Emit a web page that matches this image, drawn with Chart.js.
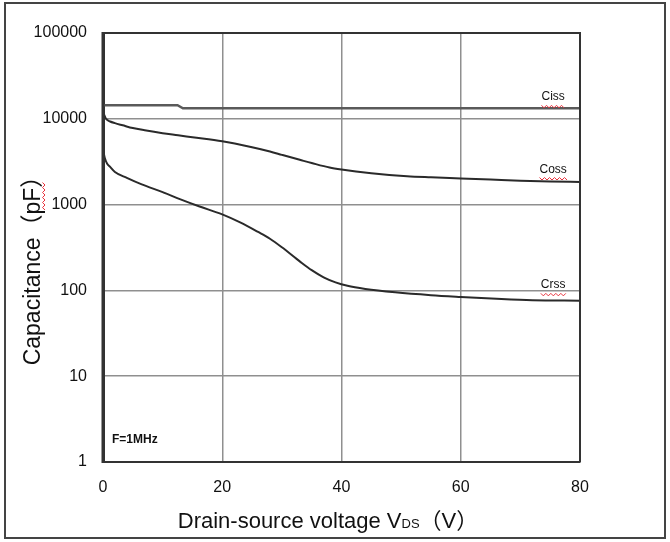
<!DOCTYPE html>
<html>
<head>
<meta charset="utf-8">
<script src="https://cdn.jsdelivr.net/npm/chart.js@4.4.0/dist/chart.umd.min.js"></script>
<style>
  html, body { margin: 0; padding: 0; background: #fff; }
  canvas { display: block; }
</style>
</head>
<body>
<canvas id="c" width="670" height="542"></canvas>
<script>
// Drain-source voltage VDS (V) and capacitance (pF) for each curve
const vCiss = [0, 12.5, 13.4, 80];
const ciss  = [14400, 14400, 13250, 13250];

const vCoss = [0, 0.5, 1.2, 2, 3.3, 5, 7, 10, 12.6, 15, 20, 25, 28, 30, 33, 35, 38, 40, 45, 51, 55, 60, 65, 70, 75, 80];
const coss  = [12000, 10000, 9300, 8900, 8400, 7800, 7350, 6800, 6430, 6100, 5470, 4650, 4150, 3800, 3330, 3050, 2700, 2560, 2320, 2140, 2080, 2020, 1960, 1900, 1860, 1840];

const vCrss = [0, 0.3, 0.7, 1.2, 2, 4, 6.5, 10, 13, 16.2, 20, 23, 26, 28, 30, 33, 35, 37, 39, 41, 44, 49, 55, 60, 66, 72, 80];
const crss  = [4400, 3500, 3000, 2750, 2400, 2050, 1720, 1400, 1150, 950, 770, 620, 480, 400, 318, 218, 172, 142, 124, 113, 104, 95, 88, 84, 80, 77, 76];

// Axis ticks
const xTicks = [0, 20, 40, 60, 80];
const yTicks = [1, 10, 100, 1000, 10000, 100000];

// Curve names and where their labels sit along the VDS axis
const curveNames = ['Ciss', 'Coss', 'Crss'];
const labelV = 75.5;
const labelLift = [8, 9, 12];

const FONT = "'Liberation Sans', 'Noto Sans CJK JP', sans-serif";

const toPts = (xs, ys) => xs.map((x, i) => ({ x: x, y: ys[i] }));

function zigzag(ctx, x0, x1, y) {
  ctx.save();
  ctx.strokeStyle = '#e8323c';
  ctx.lineWidth = 1;
  ctx.beginPath();
  let up = true;
  ctx.moveTo(x0, y);
  for (let x = x0 + 2.5; x <= x1; x += 2.5) {
    ctx.lineTo(x, up ? y + 2.5 : y);
    up = !up;
  }
  ctx.stroke();
  ctx.restore();
}

function zigzagV(ctx, x, y0, y1) {
  ctx.save();
  ctx.strokeStyle = '#e8323c';
  ctx.lineWidth = 1;
  ctx.beginPath();
  let left = true;
  ctx.moveTo(x, y0);
  for (let y = y0 - 2.5; y >= y1; y -= 2.5) {
    ctx.lineTo(left ? x - 2.5 : x, y);
    left = !left;
  }
  ctx.stroke();
  ctx.restore();
}

const decorations = {
  id: 'decorations',
  afterDraw(chart) {
    const ctx = chart.ctx;
    const a = chart.chartArea;
    const xs = chart.scales.x, ys = chart.scales.y;
    ctx.save();

    // outer frame of the figure
    ctx.strokeStyle = '#444';
    ctx.lineWidth = 2;
    ctx.strokeRect(5, 3, 660, 535);

    // plot frame: top and right edges, heavy left axis
    ctx.strokeStyle = '#333';
    ctx.lineWidth = 2;
    ctx.beginPath();
    ctx.moveTo(a.left, a.top);
    ctx.lineTo(a.right, a.top);
    ctx.lineTo(a.right, a.bottom);
    ctx.stroke();
    ctx.lineWidth = 3;
    ctx.beginPath();
    ctx.moveTo(a.left, a.top - 1);
    ctx.lineTo(a.left, a.bottom + 1);
    ctx.stroke();

    // curve names with their spelling marks
    const series = [ciss, coss, crss];
    const vs = [vCiss, vCoss, vCrss];
    ctx.fillStyle = '#111';
    ctx.font = '12px ' + FONT;
    ctx.textAlign = 'center';
    ctx.textBaseline = 'alphabetic';
    curveNames.forEach((name, i) => {
      const xv = vs[i], yv = series[i];
      const k = xv.findIndex(v => v >= labelV);
      const t = (labelV - xv[k - 1]) / (xv[k] - xv[k - 1]);
      const lv = Math.pow(10, Math.log10(yv[k - 1]) + t * (Math.log10(yv[k]) - Math.log10(yv[k - 1])));
      const px = xs.getPixelForValue(labelV);
      const py = ys.getPixelForValue(lv) - labelLift[i];
      ctx.fillText(name, px, py);
      const w = ctx.measureText(name).width;
      zigzag(ctx, px - w / 2, px + w / 2 + 1, py + 5);
    });

    // test condition
    ctx.font = 'bold 12px ' + FONT;
    ctx.textAlign = 'left';
    ctx.fillText('F=1MHz', 112, 443);

    // x axis title with subscript
    const t1 = 'Drain-source voltage V';
    const t3 = '（V）';
    ctx.font = '22px ' + FONT;
    const w1 = ctx.measureText(t1).width;
    const w3 = ctx.measureText(t3).width;
    ctx.font = '13px ' + FONT;
    const w2 = ctx.measureText('DS').width;
    const total = w1 + w2 + w3;
    const x0 = 328 - total / 2;
    ctx.font = '22px ' + FONT;
    ctx.fillText(t1, x0, 528);
    ctx.font = '13px ' + FONT;
    ctx.fillText('DS', x0 + w1, 528);
    ctx.font = '22px ' + FONT;
    ctx.fillText(t3, x0 + w1 + w2, 528);

    // y axis title
    ctx.save();
    ctx.translate(40, 265);
    ctx.rotate(-Math.PI / 2);
    ctx.textAlign = 'center';
    ctx.font = '23px ' + FONT;
    ctx.fillText('Capacitance（pF）', 0, 0);
    ctx.restore();
    zigzagV(ctx, 45, 210, 182);

    ctx.restore();
  }
};

new Chart(document.getElementById('c'), {
  type: 'line',
  data: {
    datasets: [
      { label: curveNames[0], data: toPts(vCiss, ciss), borderColor: '#5a5a5a', borderWidth: 2.5,
        tension: 0, pointRadius: 0 },
      { label: curveNames[1], data: toPts(vCoss, coss), borderColor: '#2a2a2a', borderWidth: 2,
        cubicInterpolationMode: 'monotone', pointRadius: 0 },
      { label: curveNames[2], data: toPts(vCrss, crss), borderColor: '#2a2a2a', borderWidth: 2,
        cubicInterpolationMode: 'monotone', pointRadius: 0 }
    ]
  },
  options: {
    responsive: false,
    animation: false,
    devicePixelRatio: 1,
    layout: { padding: { top: 33, right: 90, left: 0, bottom: 0 } },
    plugins: { legend: { display: false }, tooltip: { enabled: false } },
    scales: {
      x: {
        type: 'linear', min: 0, max: 80,
        afterBuildTicks: s => { s.ticks = xTicks.map(v => ({ value: v })); },
        afterFit: s => { s.height = 80; },
        grid: { color: '#8f8f8f', lineWidth: 1.5, drawTicks: false },
        border: { color: '#333', width: 2 },
        ticks: { padding: 16, color: '#111', autoSkip: false, maxRotation: 0,
                 font: { family: FONT, size: 16 } }
      },
      y: {
        type: 'logarithmic', min: 1, max: 100000,
        afterBuildTicks: s => { s.ticks = yTicks.map(v => ({ value: v })); },
        afterFit: s => { s.width = 103; },
        grid: { color: '#8f8f8f', lineWidth: 1.5, drawTicks: false },
        border: { color: '#333', width: 3 },
        ticks: { padding: 16, color: '#111', autoSkip: false,
                 callback: v => String(v),
                 font: { family: FONT, size: 16 } }
      }
    }
  },
  plugins: [decorations]
});
</script>
</body>
</html>
